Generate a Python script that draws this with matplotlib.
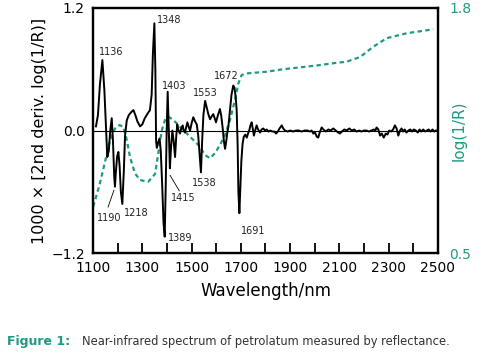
import numpy as np
import matplotlib
matplotlib.use("Agg")
import matplotlib.pyplot as plt

teal = "#1f9a80"

# 2nd derivative spectrum (left axis, x1000)
wl_d2 = [1112, 1120, 1128, 1138, 1146, 1153, 1158, 1164, 1170, 1176, 1181, 1186, 1189, 1193,
         1198, 1203, 1208, 1213, 1219, 1225, 1230, 1237, 1245, 1255, 1264, 1272, 1280, 1291,
         1300, 1310, 1320, 1331, 1338, 1343, 1349, 1353, 1356, 1359, 1364, 1370, 1375, 1381,
         1386, 1391, 1395, 1399, 1403, 1407, 1412, 1417, 1422, 1427, 1433, 1438, 1442, 1447,
         1453, 1458, 1464, 1468, 1473, 1478, 1483, 1489, 1494, 1500, 1507, 1514, 1521, 1527,
         1533, 1538, 1543, 1548, 1555, 1562, 1568, 1575, 1582, 1588, 1594, 1599, 1607, 1615,
         1620, 1626, 1631, 1636, 1641, 1645, 1649, 1655, 1662, 1669, 1674, 1679, 1683, 1687,
         1690, 1694, 1698, 1702, 1707, 1712, 1718, 1724, 1729, 1734, 1739, 1744, 1749, 1753,
         1758, 1764, 1770, 1778, 1784, 1791, 1798, 1805, 1812, 1820, 1828, 1836, 1843, 1850,
         1857, 1866, 1872, 1879, 1890, 1900, 1912, 1924, 1935, 1947, 1958, 1970, 1980, 1987,
         1994, 2001, 2008, 2014, 2020, 2028, 2035, 2045, 2055, 2065, 2075, 2085, 2095, 2102,
         2110, 2120, 2130, 2140, 2150, 2160, 2170, 2180, 2190, 2200, 2210, 2220, 2230, 2240,
         2246, 2251, 2258, 2265, 2272, 2280, 2288, 2295, 2302, 2310, 2318, 2325, 2332, 2339,
         2346, 2352, 2358, 2365, 2372, 2380, 2388, 2395, 2402, 2410, 2418, 2425, 2432, 2440,
         2448, 2455, 2462, 2470, 2478, 2485, 2492]
d2 = [0.04, 0.15, 0.45, 0.69, 0.40, 0.00, -0.26, -0.20, 0.00, 0.12, -0.10, -0.45, -0.55, -0.40,
      -0.25, -0.21, -0.35, -0.60, -0.72, -0.40, -0.05, 0.10, 0.15, 0.18, 0.20, 0.15, 0.09, 0.04,
      0.06, 0.12, 0.16, 0.20, 0.35, 0.75, 1.05, 0.60, -0.10, -0.17, -0.12, -0.08, -0.20, -0.55,
      -0.90, -1.04, -0.55, 0.00, 0.38, 0.05, -0.37, -0.15, 0.00, -0.10, -0.26, -0.05, 0.06, 0.00,
      -0.03, 0.02, 0.05, 0.00, -0.02, 0.03, 0.08, 0.03, 0.00, 0.07, 0.13, 0.09, 0.06, -0.05,
      -0.25, -0.41, -0.10, 0.15, 0.29, 0.22, 0.16, 0.11, 0.14, 0.16, 0.12, 0.08, 0.15, 0.21,
      0.15, 0.03, -0.10, -0.18, -0.10, -0.02, 0.03, 0.18, 0.35, 0.44, 0.42, 0.33, 0.20, -0.15,
      -0.60, -0.81, -0.55, -0.30, -0.13, -0.06, -0.04, -0.07, -0.03, 0.00, 0.05, 0.08, 0.01, -0.05,
      0.00, 0.05, 0.01, -0.02, 0.01, 0.02, 0.00, 0.01, -0.01, 0.00, -0.01, -0.01, -0.03, -0.01,
      0.02, 0.05, 0.02, 0.00, -0.01, 0.00, -0.01, 0.00, 0.00, -0.01, 0.00, 0.00, -0.01, 0.00,
      -0.03, -0.02, -0.06, -0.07, -0.02, 0.03, 0.01, -0.01, 0.01, 0.00, 0.02, 0.00, -0.02, -0.03,
      -0.01, 0.01, 0.00, 0.02, 0.00, 0.01, -0.01, 0.00, -0.01, 0.00, 0.00, -0.01, 0.00, 0.01,
      0.00, 0.03, 0.01, -0.05, -0.03, -0.07, -0.03, -0.04, 0.00, -0.01, 0.01, 0.05, 0.02, -0.05,
      0.00, 0.02, -0.01, 0.01, -0.02, 0.00, 0.01, -0.01, 0.01, 0.00, -0.02, 0.01, -0.01, 0.01,
      -0.01, 0.00, 0.01, -0.01, 0.01, -0.01, 0.00]

# log(1/R) spectrum (right axis)
wl_abs = [1101, 1128, 1149, 1169, 1189, 1207, 1223, 1237, 1250, 1270, 1291, 1324, 1352, 1365,
          1379, 1392, 1406, 1426, 1453, 1494, 1534, 1554, 1575, 1595, 1615, 1636, 1656, 1676,
          1690, 1703, 1724, 1805, 1872, 1940, 2008, 2075, 2129, 2184, 2238, 2292, 2373, 2481]
absorb = [0.746, 0.87, 0.985, 1.10, 1.16, 1.179, 1.17, 1.10, 1.01, 0.923, 0.887, 0.878, 0.92, 1.03,
          1.15, 1.206, 1.223, 1.206, 1.17, 1.117, 1.064, 1.02, 1.003, 1.03, 1.073, 1.126, 1.206, 1.312,
          1.40, 1.444, 1.453, 1.462, 1.475, 1.485, 1.495, 1.507, 1.515, 1.54, 1.595, 1.64, 1.666, 1.687]

# peak labels: text, x, y, alignment
peak_txt = ["1136", "1348", "1403", "1553", "1672", "1190", "1218", "1389", "1415", "1538", "1691"]
peak_x = [1173, 1360, 1429, 1555, 1640, 1165, 1275, 1404, 1467, 1552, 1749]
peak_y = [0.77, 1.08, 0.44, 0.37, 0.53, -0.86, -0.81, -1.05, -0.66, -0.51, -0.98]
peak_ha = ["center", "left", "center", "center", "center", "center", "center", "left", "center", "center", "center"]

fig = plt.figure(figsize=(4.88, 3.57), dpi=100)
ax = fig.add_axes([0.1906, 0.2913, 0.7069, 0.6863])
ax2 = ax.twinx()

ax.axhline(0, color="black", lw=0.8, zorder=1)
ax2.plot(wl_abs, absorb, color=teal, lw=1.6, ls=(0, (2, 1.5)))
ax.plot(wl_d2, d2, color="black", lw=1.4, zorder=3)
ax.set_zorder(ax2.get_zorder() + 1)
ax.patch.set_visible(False)

for t, x, y, h in zip(peak_txt, peak_x, peak_y, peak_ha):
    ax.text(x, y, t, fontsize=7, ha=h, va="center", color="#222222")
# leader lines
ax.plot([1161, 1185], [-0.75, -0.585], color="black", lw=0.6)
ax.plot([1413, 1450], [-0.44, -0.59], color="black", lw=0.6)

ax.set_xlim(1100, 2500)
ax.set_ylim(-1.2, 1.2)
ax2.set_ylim(0.5, 1.8)

ax.set_xticks(np.arange(1100, 2501, 200))
ax.set_xticks(np.arange(1200, 2500, 200), minor=True)
ax.tick_params(axis="x", which="both", direction="in", length=7, width=1.3, labelsize=10, pad=6)
ax.set_yticks([-1.2, 0.0, 1.2])
ax.set_yticklabels(["\u22121.2", "0.0", "1.2"])
ax.tick_params(axis="y", length=0, labelsize=10, pad=6)
ax2.set_yticks([0.5, 1.8])
ax2.tick_params(axis="y", length=0, labelsize=10, pad=8, labelcolor=teal)
for s in ax2.spines.values():
    s.set_linewidth(1.6)
for s in ax.spines.values():
    s.set_linewidth(1.6)

ax.set_xlabel("Wavelength/nm", fontsize=12, labelpad=5)
ax.set_ylabel("1000 \u00d7 [2nd deriv. log(1/R)]", fontsize=11.5, labelpad=3)
ax2.set_ylabel("log(1/R)", fontsize=11, color=teal)
ax2.yaxis.set_label_coords(1.04, 0.5)

fig.text(0.014, 0.035, "Figure 1:", fontsize=9, fontweight="bold", color=teal)
fig.text(0.168, 0.035, "Near-infrared spectrum of petrolatum measured by reflectance.",
         fontsize=8.3, color="#333333")

fig.savefig("out.png", dpi=100)
